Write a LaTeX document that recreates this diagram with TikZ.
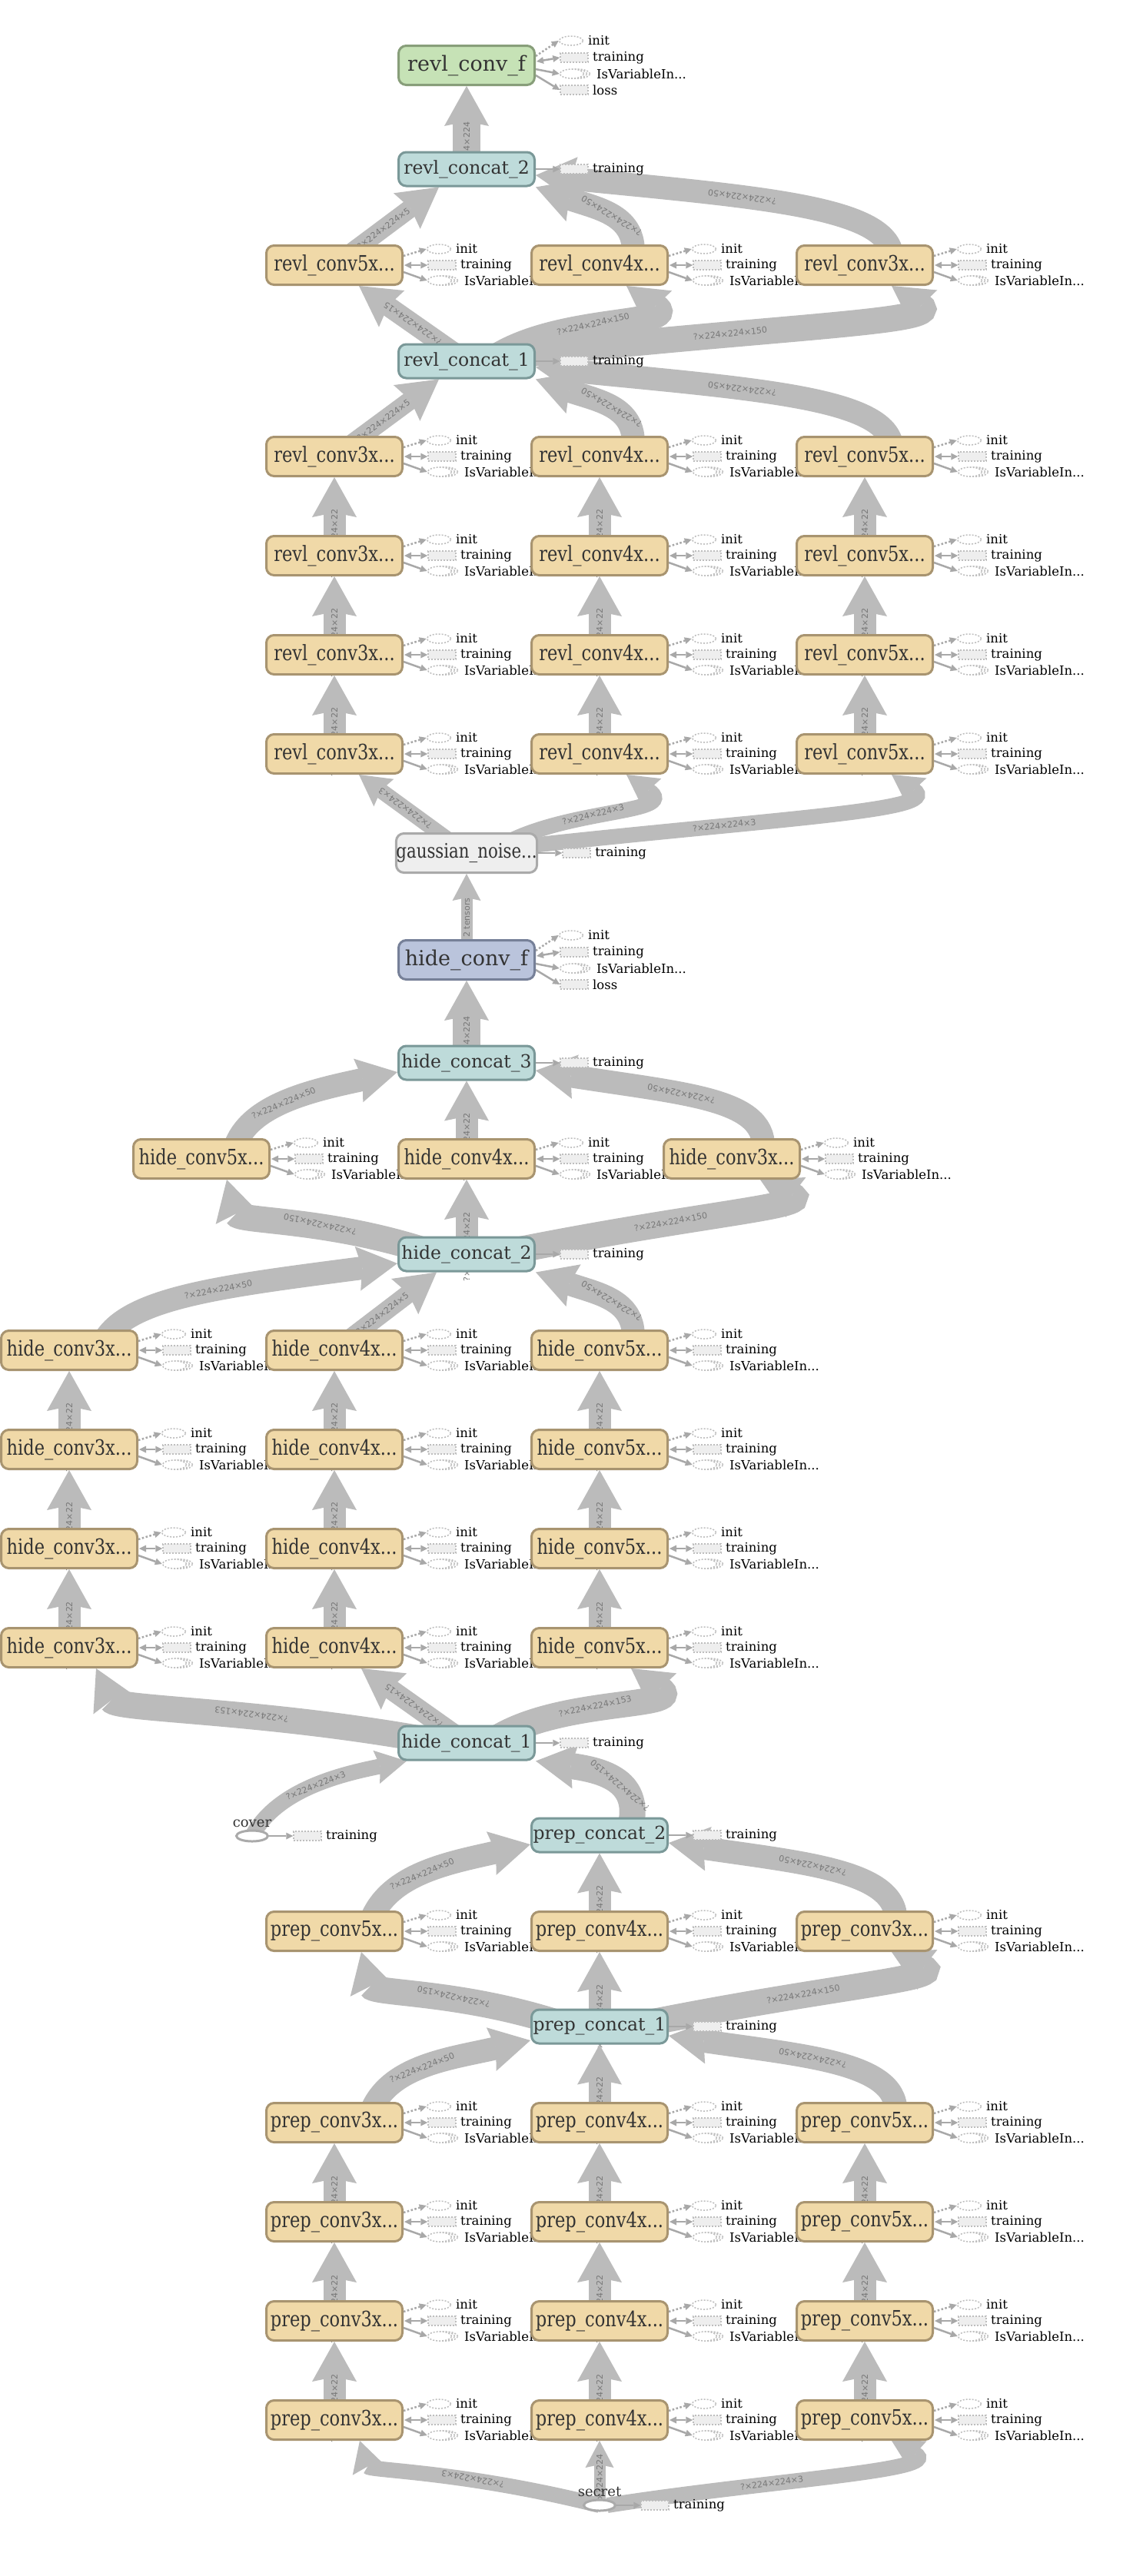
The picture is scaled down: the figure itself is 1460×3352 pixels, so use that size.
\documentclass[tikz,border=0pt]{standalone}
\usepackage{fontspec}
\setmainfont{DejaVu Serif}
\newfontfamily\condfont{DejaVu Serif}[FakeStretch=0.82]
\newfontfamily\edgefont{DejaVu Sans}
\usetikzlibrary{arrows.meta,shapes.geometric}

\definecolor{convfill}{RGB}{240,217,168}
\definecolor{convline}{RGB}{168,148,112}
\definecolor{catfill}{RGB}{190,219,218}
\definecolor{catline}{RGB}{122,152,152}
\definecolor{ffill}{RGB}{198,226,182}
\definecolor{fline}{RGB}{136,158,122}
\definecolor{hfill}{RGB}{186,196,220}
\definecolor{hline}{RGB}{118,128,152}
\definecolor{noisefill}{RGB}{238,238,238}
\definecolor{noiseline}{RGB}{170,170,170}
\definecolor{edgegray}{RGB}{187,187,187}
\definecolor{lblgray}{RGB}{120,120,120}
\definecolor{auxgray}{RGB}{168,168,168}
\definecolor{dotgray}{RGB}{190,190,190}
\definecolor{textdark}{RGB}{51,51,51}

\pgfdeclarelayer{edges}
\pgfdeclarelayer{aux}
\pgfsetlayers{edges,aux,main}

\tikzset{
  opbox/.style={rectangle, rounded corners=10pt, line width=3pt, inner sep=0pt,
    minimum width=177pt, text=textdark},
  conv/.style={opbox, draw=convline, fill=convfill, minimum height=51pt,
    font=\condfont\fontsize{27.5}{29}\selectfont},
  concat/.style={opbox, draw=catline, fill=catfill, minimum height=44pt,
    font=\fontsize{23.5}{26}\selectfont},
  convf/.style={opbox, minimum height=51pt, font=\fontsize{27}{30}\selectfont},
  noise/.style={opbox, draw=noiseline, fill=noisefill, minimum height=51pt,
    font=\condfont\fontsize{26}{28}\selectfont},
  feed/.style={ellipse, draw=noiseline, fill=white, line width=3pt,
    minimum width=41pt, minimum height=14pt, inner sep=0pt},
  feedtxt/.style={inner sep=0pt, text=textdark, font=\fontsize{18}{20}\selectfont},
  flow/.style={draw=edgegray, line width=#1,
    -{Stealth[length=52pt 0 0,width=58pt 0 0,inset=6pt 0 0,line width=0pt 0 0]}},
  lowflow/.style={draw=edgegray, line width=#1,
    -{Stealth[length=40pt 0 0,width=44pt 0 0,inset=5pt 0 0,line width=0pt 0 0]}},
  tinyflow/.style={draw=edgegray, line width=15pt,
    -{Stealth[length=35pt 0 0,width=37pt 0 0,inset=4pt 0 0,line width=0pt 0 0]}},
  elbl/.style={sloped, allow upside down, inner sep=0pt, text=lblgray,
    font=\edgefont\fontsize{11}{13}\selectfont},
  smalltxt/.style={anchor=west, inner sep=0pt, text=black,
    font=\fontsize{16.5}{18}\selectfont},
  varell/.style={ellipse, draw=dotgray, fill=white, line width=1.5pt,
    dash pattern=on 2pt off 2pt, minimum width=31pt, minimum height=12pt, inner sep=0pt},
  varbox/.style={rectangle, draw=dotgray, fill=noisefill, line width=1.5pt,
    dash pattern=on 2pt off 2pt, minimum width=36pt, minimum height=12pt, inner sep=0pt},
  auxline/.style={draw=auxgray, line width=2.5pt,
    -{Triangle[length=9pt 0 0,width=9pt 0 0,line width=0pt 0 0]}},
  auxdots/.style={auxline, dash pattern=on 2.5pt off 2.5pt},
  auxboth/.style={auxline,
    {Triangle[length=9pt 0 0,width=9pt 0 0,line width=0pt 0 0]}-{Triangle[length=9pt 0 0,width=9pt 0 0,line width=0pt 0 0]}},
}

% init / training / IsVariableIn... beside a conv block
\newcommand\convaux[1]{%
  \node[varell] (#1-i) at ([xshift=46pt,yshift=21pt]#1.east) {};
  \node[smalltxt] (#1-it) at ([xshift=68pt,yshift=21pt]#1.east) {init};
  \node[varbox] (#1-t) at ([xshift=50pt]#1.east) {};
  \node[smalltxt] (#1-tt) at ([xshift=74pt]#1.east) {training};
  \node[varell] (#1-v3) at ([xshift=55pt,yshift=-20pt]#1.east) {};
  \node[varell] (#1-v2) at ([xshift=51pt,yshift=-20pt]#1.east) {};
  \node[varell] (#1-v) at ([xshift=47pt,yshift=-20pt]#1.east) {};
  \node[smalltxt] (#1-vt) at ([xshift=79pt,yshift=-20pt]#1.east) {IsVariableIn...};
  \draw[auxdots] ([yshift=12pt]#1.east) -- (#1-i.west);
  \draw[auxboth] ([xshift=1pt]#1.east) -- (#1-t.west);
  \draw[auxline] ([yshift=-9pt]#1.east) -- (#1-v.west);
}
% the same for the two final blocks, plus loss
\newcommand\finaux[1]{%
  \node[varell] (#1-i) at ([xshift=46pt,yshift=32pt]#1.east) {};
  \node[smalltxt] (#1-it) at ([xshift=68pt,yshift=32pt]#1.east) {init};
  \node[varbox] (#1-t) at ([xshift=50pt,yshift=10pt]#1.east) {};
  \node[smalltxt] (#1-tt) at ([xshift=74pt,yshift=10pt]#1.east) {training};
  \node[varell] (#1-v3) at ([xshift=55pt,yshift=-11pt]#1.east) {};
  \node[varell] (#1-v2) at ([xshift=51pt,yshift=-11pt]#1.east) {};
  \node[varell] (#1-v) at ([xshift=47pt,yshift=-11pt]#1.east) {};
  \node[smalltxt] (#1-vt) at ([xshift=79pt,yshift=-11pt]#1.east) {IsVariableIn...};
  \node[varbox] (#1-l) at ([xshift=50pt,yshift=-32pt]#1.east) {};
  \node[smalltxt] (#1-lt) at ([xshift=74pt,yshift=-32pt]#1.east) {loss};
  \draw[auxdots] ([yshift=12pt]#1.east) -- (#1-i.west);
  \draw[auxboth] ([xshift=1pt,yshift=5pt]#1.east) -- (#1-t.west);
  \draw[auxline] ([yshift=-5pt]#1.east) -- (#1-v.west);
  \draw[auxline] ([yshift=-13pt]#1.east) -- (#1-l.west);
}
% a single training input
\newcommand\trainaux[1]{%
  \node[varbox] (#1-t) at ([xshift=50pt]#1.east) {};
  \node[smalltxt] (#1-tt) at ([xshift=74pt]#1.east) {training};
  \draw[auxline] (#1.east) -- (#1-t.west);
}

\begin{document}
\begin{tikzpicture}[x=1pt,y=-1pt]
\useasboundingbox (0,0) rectangle (1460,3352);

% reveal network
\node[convf, draw=fline, fill=ffill] (rvf) at (607,85) {revl\_conv\_f};
\node[concat] (rvc2) at (607,220) {revl\_concat\_2};
\node[conv] (rvA1) at (435,345) {revl\_conv5x...};
\node[conv] (rvA2) at (780,345) {revl\_conv4x...};
\node[conv] (rvA3) at (1125,345) {revl\_conv3x...};
\node[concat] (rvc1) at (607,470) {revl\_concat\_1};
\foreach \row/\y in {B/594,C/723,D/852,E/981}{
  \node[conv] (rv\row1) at (435,\y) {revl\_conv3x...};
  \node[conv] (rv\row2) at (780,\y) {revl\_conv4x...};
  \node[conv] (rv\row3) at (1125,\y) {revl\_conv5x...};
}
\node[noise] (gauss) at (607,1110) {gaussian\_noise...};

% hiding network
\node[convf, draw=hline, fill=hfill] (hdf) at (607,1249) {hide\_conv\_f};
\node[concat] (hdc3) at (607,1383) {hide\_concat\_3};
\node[conv] (hdF1) at (262,1508) {hide\_conv5x...};
\node[conv] (hdF2) at (607,1508) {hide\_conv4x...};
\node[conv] (hdF3) at (952,1508) {hide\_conv3x...};
\node[concat] (hdc2) at (607,1632) {hide\_concat\_2};
\foreach \row/\y in {G/1757,H/1886,I/2015,J/2144}{
  \node[conv] (hd\row1) at (90,\y) {hide\_conv3x...};
  \node[conv] (hd\row2) at (435,\y) {hide\_conv4x...};
  \node[conv] (hd\row3) at (780,\y) {hide\_conv5x...};
}
\node[concat] (hdc1) at (607,2268) {hide\_concat\_1};
\node[feed] (cover) at (328,2389) {};
\node[feedtxt, above=3pt] (covertxt) at (cover.north) {cover};

% prep network
\node[concat] (ppc2) at (780,2388) {prep\_concat\_2};
\node[conv] (ppK1) at (435,2513) {prep\_conv5x...};
\node[conv] (ppK2) at (780,2513) {prep\_conv4x...};
\node[conv] (ppK3) at (1125,2513) {prep\_conv3x...};
\node[concat] (ppc1) at (780,2637) {prep\_concat\_1};
\foreach \row/\y in {L/2762,M/2891,N/3020,O/3149}{
  \node[conv] (pp\row1) at (435,\y) {prep\_conv3x...};
  \node[conv] (pp\row2) at (780,\y) {prep\_conv4x...};
  \node[conv] (pp\row3) at (1125,\y) {prep\_conv5x...};
}
\node[feed] (secret) at (780,3260) {};
\node[feedtxt, above=3pt] (secrettxt) at (secret.north) {secret};

\begin{pgfonlayer}{edges}
\fill[white] (0,0) rectangle (1460,3352);

% reveal
\draw[flow=36pt] (rvc2.center) -- (rvf.south) node[elbl,pos=.26]{?×224×224};
\draw[flow=24pt] (rvA1.center) -- ([xshift=-36pt]rvc2.south) node[elbl,pos=.47]{?×224×224×5};
\draw[flow=30pt] ([xshift=42pt]rvA2.center) .. controls +(13,-65) and +(83,29) .. (rvc2.south east) node[elbl,pos=.5]{?×224×224×50};
\draw[flow=30pt] ([xshift=35pt]rvA3.center) .. controls +(15,-75) and +(303,30) .. ([yshift=-8pt]rvc2.east) node[elbl,pos=.65]{?×224×224×50};
\draw[flow=26pt] (rvc1.center) -- ([xshift=32pt]rvA1.south) node[elbl,pos=.5]{?×224×224×15};
\draw[flow=34pt] ([xshift=30pt]rvc1.center) .. controls +(83,-60) and +(75,53) .. ([xshift=35pt]rvA2.south) node[elbl,pos=.45]{?×224×224×150};
\draw[flow=34pt] ([xshift=40pt,yshift=5pt]rvc1.center) .. controls +(353,-40) and +(70,48) .. ([xshift=35pt]rvA3.south) node[elbl,pos=.33]{?×224×224×150};
\draw[flow=24pt] (rvB1.center) -- ([xshift=-36pt]rvc1.south) node[elbl,pos=.47]{?×224×224×5};
\draw[flow=30pt] ([xshift=42pt]rvB2.center) .. controls +(13,-65) and +(83,29) .. (rvc1.south east) node[elbl,pos=.5]{?×224×224×50};
\draw[flow=30pt] ([xshift=35pt]rvB3.center) .. controls +(15,-75) and +(303,30) .. ([yshift=-8pt]rvc1.east) node[elbl,pos=.65]{?×224×224×50};
\foreach \up/\dn in {B/C,C/D,D/E}
  \foreach \col in {1,2,3}
    \draw[flow=29pt] (rv\dn\col.center) -- (rv\up\col.south) node[elbl,pos=.15]{?×224×224×22};
\draw[lowflow=20pt] (gauss.center) -- ([xshift=32pt]rvE1.south) node[elbl,pos=.57]{?×224×224×3};
\draw[lowflow=20pt] ([xshift=30pt]gauss.center) .. controls +(83,-60) and +(75,53) .. ([xshift=35pt]rvE2.south) node[elbl,pos=.45]{?×224×224×3};
\draw[lowflow=20pt] ([xshift=40pt,yshift=5pt]gauss.center) .. controls +(353,-40) and +(70,48) .. ([xshift=35pt]rvE3.south) node[elbl,pos=.32]{?×224×224×3};
\draw[tinyflow] (hdf.center) -- (gauss.south) node[elbl,pos=.49]{2 tensors};

% hide
\draw[flow=36pt] (hdc3.center) -- (hdf.south) node[elbl,pos=.26]{?×224×224};
\draw[flow=30pt] ([xshift=40pt]hdF1.center) .. controls +(8,-68) and +(-116,25) .. ([yshift=-12pt]hdc3.west) node[elbl,pos=.5]{?×224×224×50};
\draw[flow=29pt] (hdF2.center) -- (hdc3.south) node[elbl,pos=.15]{?×224×224×22};
\draw[flow=30pt] ([xshift=39pt]hdF3.center) .. controls +(19,-78) and +(203,32) .. ([yshift=-10pt]hdc3.east) node[elbl,pos=.62]{?×224×224×50};
\draw[flow=34pt] ([xshift=-40pt]hdc2.center) .. controls +(-137,-47) and +(15,55) .. ([xshift=33pt]hdF1.south) node[elbl,pos=.4]{?×224×224×150};
\draw[flow=29pt] (hdc2.center) -- (hdF2.south) node[elbl,pos=.1]{?×224×224×22};
\draw[flow=34pt] ([xshift=40pt]hdc2.center) .. controls +(253,-52) and +(71,35) .. ([xshift=37pt]hdF3.south) node[elbl,pos=.35]{?×224×224×150};
\draw[flow=30pt] ([xshift=40pt]hdG1.center) .. controls +(20,-67) and +(-237,31) .. ([yshift=-12pt]hdc2.west) node[elbl,pos=.6]{?×224×224×50};
\draw[flow=24pt] (hdG2.center) -- ([xshift=-39pt]hdc2.south) node[elbl,pos=.47]{?×224×224×5};
\draw[flow=30pt] ([xshift=42pt]hdG3.center) .. controls +(13,-65) and +(83,29) .. (hdc2.south east) node[elbl,pos=.5]{?×224×224×50};
\foreach \up/\dn in {G/H,H/I,I/J}
  \foreach \col in {1,2,3}
    \draw[flow=29pt] (hd\dn\col.center) -- (hd\up\col.south) node[elbl,pos=.15]{?×224×224×22};
\draw[flow=34pt] ([xshift=-30pt]hdc1.center) .. controls +(-227,-43) and +(26,54) .. ([xshift=35pt]hdJ1.south) node[elbl,pos=.4]{?×224×224×153};
\draw[flow=26pt] (hdc1.center) -- ([xshift=35pt]hdJ2.south) node[elbl,pos=.5]{?×224×224×15};
\draw[flow=34pt] ([xshift=30pt]hdc1.center) .. controls +(83,-60) and +(75,53) .. ([xshift=41pt]hdJ3.south) node[elbl,pos=.45]{?×224×224×153};
\draw[lowflow=20pt] (cover.center) .. controls +(32,-59) and +(-90,18) .. ([xshift=12pt]hdc1.south west) node[elbl,pos=.52]{?×224×224×3};
\draw[flow=34pt] ([xshift=37pt]ppc2.center) .. controls +(23,-68) and +(93,13) .. (hdc1.south east) node[elbl,pos=.45]{?×224×224×150};

% prep
\draw[flow=30pt] ([xshift=43pt]ppK1.center) .. controls +(17,-73) and +(-110,25) .. ([yshift=-12pt]ppc2.west) node[elbl,pos=.5]{?×224×224×50};
\draw[flow=29pt] (ppK2.center) -- (ppc2.south) node[elbl,pos=.15]{?×224×224×22};
\draw[flow=30pt] ([xshift=38pt]ppK3.center) .. controls +(22,-78) and +(180,27) .. ([yshift=-10pt]ppc2.east) node[elbl,pos=.6]{?×224×224×50};
\draw[flow=34pt] ([xshift=-40pt]ppc1.center) .. controls +(-137,-47) and +(15,55) .. ([xshift=35pt]ppK1.south) node[elbl,pos=.4]{?×224×224×150};
\draw[flow=29pt] (ppc1.center) -- (ppK2.south) node[elbl,pos=.1]{?×224×224×22};
\draw[flow=34pt] ([xshift=40pt]ppc1.center) .. controls +(253,-52) and +(71,35) .. ([xshift=35pt]ppK3.south) node[elbl,pos=.35]{?×224×224×150};
\draw[flow=30pt] ([xshift=43pt]ppL1.center) .. controls +(17,-73) and +(-110,25) .. ([yshift=-18pt]ppc1.west) node[elbl,pos=.5]{?×224×224×50};
\draw[flow=29pt] (ppL2.center) -- (ppc1.south) node[elbl,pos=.15]{?×224×224×22};
\draw[flow=30pt] ([xshift=38pt]ppL3.center) .. controls +(22,-78) and +(180,27) .. ([yshift=-12pt]ppc1.east) node[elbl,pos=.6]{?×224×224×50};
\foreach \up/\dn in {L/M,M/N,N/O}
  \foreach \col in {1,2,3}
    \draw[flow=29pt] (pp\dn\col.center) -- (pp\up\col.south) node[elbl,pos=.15]{?×224×224×22};
\draw[lowflow=20pt] (secret.center) .. controls +(-180,-45) and +(12,39) .. ([xshift=33pt]ppO1.south) node[elbl,pos=.35]{?×224×224×3};
\draw[tinyflow] (secret.center) -- (ppO2.south) node[elbl,pos=.4]{?×224×224};
\draw[lowflow=20pt] ([xshift=10pt]secret.center) .. controls +(210,-33) and +(70,39) .. ([xshift=35pt]ppO3.south) node[elbl,pos=.35]{?×224×224×3};
\end{pgfonlayer}

\begin{pgfonlayer}{aux}
\foreach \pre/\row in {rv/A,rv/B,rv/C,rv/D,rv/E,hd/F,hd/G,hd/H,hd/I,hd/J,pp/K,pp/L,pp/M,pp/N,pp/O}
  \foreach \col in {1,2,3}
    {\convaux{\pre\row\col}}
\finaux{rvf}
\finaux{hdf}
\foreach \n in {rvc2,rvc1,gauss,hdc3,hdc2,hdc1,ppc2,ppc1,cover,secret}
  {\trainaux{\n}}
\end{pgfonlayer}
\end{tikzpicture}
\end{document}
